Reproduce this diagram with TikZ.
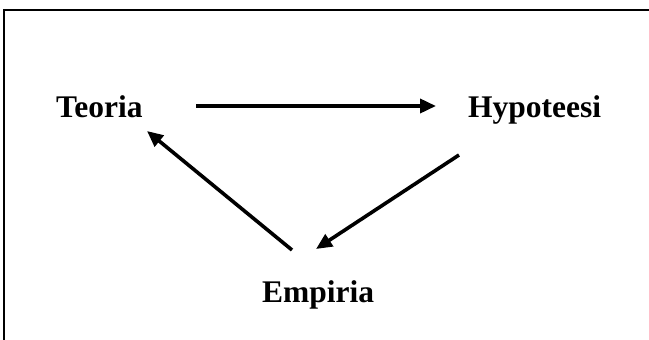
\documentclass[tikz,border=0pt]{standalone}
\usepackage{fontspec}
\setmainfont{Liberation Serif}
\usetikzlibrary{arrows.meta}
\begin{document}
\begin{tikzpicture}[x=1pt,y=-1pt,
  lbl/.style={font=\fontsize{31.5}{36}\selectfont\bfseries, inner sep=0pt, anchor=base west},
  arr/.style={line width=3.6pt, -{Triangle[length=16pt,width=14pt]}},
  frame/.style={line width=2pt}]
\useasboundingbox (0,0) rectangle (649,340);
\draw[frame] (3.5,340) -- (3.5,10) -- (649,10);
\node[lbl] (teoria) at (56,117) {Teoria};
\node[lbl] (hypo) at (468,117) {Hypoteesi};
\node[lbl] (emp) at (262,302) {Empiria};
\coordinate (t1) at (196,106);
\coordinate (h1) at (436,106);
\coordinate (h2) at (459,155);
\coordinate (e1) at (316,249);
\coordinate (e2) at (292,250);
\coordinate (t2) at (147,131);
\draw[arr] (t1) -- (h1);
\draw[arr] (h2) -- (e1);
\draw[arr] (e2) -- (t2);
\end{tikzpicture}
\end{document}
